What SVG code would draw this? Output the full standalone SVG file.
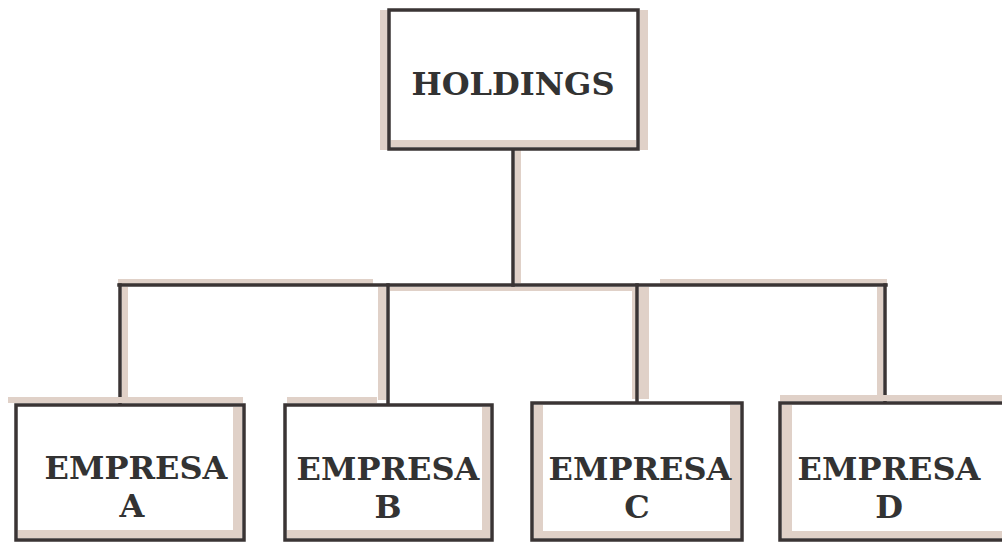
<svg xmlns="http://www.w3.org/2000/svg" width="1002" height="543" viewBox="0 0 1002 543">
<style>
.ln{stroke:#3a3434;stroke-width:3.5;fill:none;stroke-linecap:square}
.bx{stroke:#3a3434;stroke-width:3.5;fill:#fff}
.sh{fill:#e0d1c8}
.t{font-family:"DejaVu Serif","Liberation Serif",serif;font-weight:bold;font-size:32px;fill:#333;text-anchor:middle}
</style>
<rect width="1002" height="543" fill="#fff"/>
<g id="connectors">
<rect class="sh" x="515" y="150" width="6" height="133"/>
<rect class="sh" x="118" y="279" width="255" height="5"/>
<rect class="sh" x="660" y="279" width="227" height="5"/>
<rect class="sh" x="390" y="287" width="245" height="4"/>
<rect class="sh" x="122" y="287" width="6" height="113"/>
<rect class="sh" x="378" y="287" width="8" height="113"/>
<rect class="sh" x="632" y="287" width="4" height="112"/>
<rect class="sh" x="639" y="287" width="10" height="112"/>
<rect class="sh" x="877" y="287" width="6" height="110"/>
<line class="ln" x1="513" y1="150" x2="513" y2="285"/>
<line class="ln" x1="119" y1="285" x2="886" y2="285"/>
<line class="ln" x1="120" y1="285" x2="120" y2="405"/>
<line class="ln" x1="388" y1="285" x2="388" y2="405"/>
<line class="ln" x1="637" y1="285" x2="637" y2="403"/>
<line class="ln" x1="885" y1="285" x2="885" y2="403"/>
</g>
<g id="holdings">
<rect class="sh" x="380" y="10" width="8" height="140"/>
<rect class="sh" x="640" y="10" width="8" height="140"/>
<rect class="bx" x="389" y="10" width="249" height="139"/>
<rect class="sh" x="391" y="140" width="245" height="7"/>
<text class="t" x="513" y="95">HOLDINGS</text>
</g>
<g id="empresa-a">
<rect class="sh" x="8" y="397" width="235" height="6"/>
<rect class="bx" x="16" y="405" width="228" height="135"/>
<rect class="sh" x="233" y="407" width="9" height="131"/>
<rect class="sh" x="18" y="530" width="224" height="8"/>
<text class="t" x="136" y="479">EMPRESA</text>
<text class="t" x="132" y="517">A</text>
</g>
<g id="empresa-b">
<rect class="sh" x="287" y="397" width="90" height="6"/>
<rect class="bx" x="285" y="405" width="207" height="135"/>
<rect class="sh" x="482" y="407" width="8" height="131"/>
<rect class="sh" x="287" y="530" width="203" height="8"/>
<text class="t" x="388" y="480">EMPRESA</text>
<text class="t" x="388" y="518">B</text>
</g>
<g id="empresa-c">
<rect class="bx" x="532" y="403" width="210" height="137"/>
<rect class="sh" x="534" y="405" width="9" height="133"/>
<rect class="sh" x="730" y="405" width="10" height="133"/>
<rect class="sh" x="534" y="531" width="206" height="7"/>
<text class="t" x="640" y="480">EMPRESA</text>
<text class="t" x="637" y="518">C</text>
</g>
<g id="empresa-d">
<rect class="sh" x="780" y="395" width="222" height="6"/>
<rect class="bx" x="780" y="403" width="230" height="137"/>
<rect class="sh" x="782" y="405" width="10" height="133"/>
<rect class="sh" x="782" y="531" width="220" height="7"/>
<text class="t" x="889" y="480">EMPRESA</text>
<text class="t" x="889" y="518">D</text>
</g>
</svg>
